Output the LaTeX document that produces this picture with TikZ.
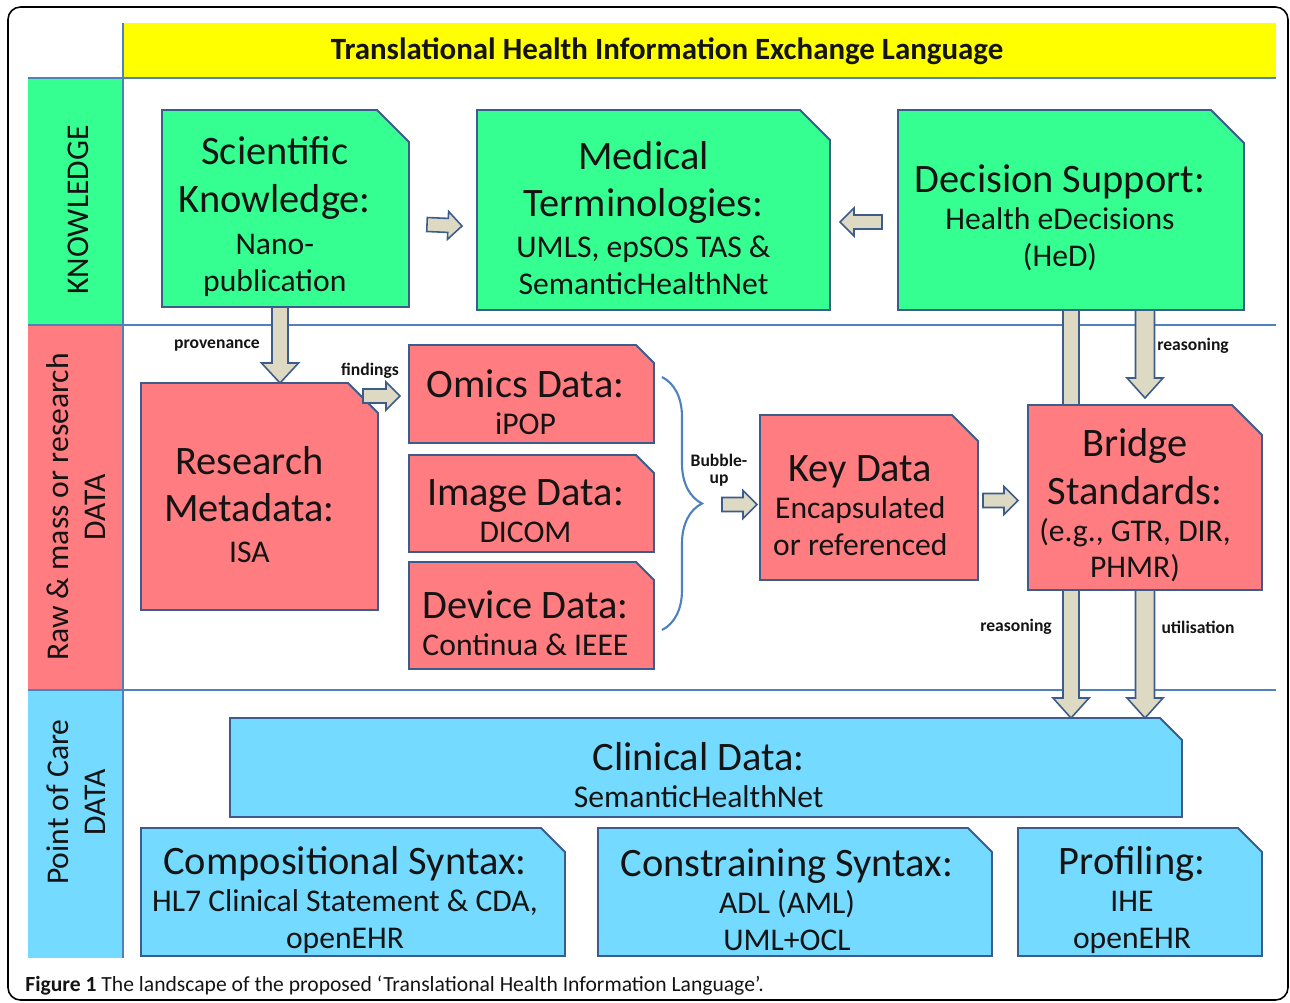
\documentclass[tikz,border=0pt]{standalone}
\usepackage{fontspec}
\setmainfont{Carlito}
\usetikzlibrary{calc, decorations.pathreplacing}

\definecolor{kgreen}{RGB}{54,255,146}
\definecolor{rsalmon}{RGB}{255,124,128}
\definecolor{cblue}{RGB}{117,218,255}
\definecolor{hyellow}{RGB}{255,255,0}
\definecolor{boxline}{RGB}{60,92,140}
\definecolor{laneline}{RGB}{79,129,189}
\definecolor{arrfill}{RGB}{221,217,195}
\definecolor{txt}{RGB}{20,20,20}

\newcommand\hd[1]{{\fontsize{23}{27}\selectfont #1}}
% box with cut corner: name, x1, y1, x2, y2, cut, colour, text
\newcommand\snipbox[8]{%
  \filldraw[fill=#7, boxborder] (#2,#3) -- ({#4-#6},#3) -- (#4,{#3+#6}) -- (#4,#5) -- (#2,#5) -- cycle;
  \node[boxshape, minimum width={(#4-#2)*0.02cm}, minimum height={(#5-#3)*0.02cm}] (#1)
      at ({(#2+#4)/2},{(#3+#5)/2}) {};
  \node[boxtext] (#1-txt) at ($(#1.center)+({-#6/3},8)$) {#8};
}
% block arrow: start, end, half shaft, half head, head length
\newcommand\blockarrow[5]{%
  \coordinate (ba) at ($(#2)!#5!(#1)$);
  \filldraw[fatarrow] ($(#1)!#3!90:(#2)$) -- ($(ba)!#3!90:(#2)$) -- ($(ba)!#4!90:(#2)$) -- (#2)
    -- ($(ba)!#4!-90:(#2)$) -- ($(ba)!#3!-90:(#2)$) -- ($(#1)!#3!-90:(#2)$) -- cycle;
}

\tikzset{
  boxborder/.style={draw=boxline, line width=1.1pt, line join=miter},
  boxshape/.style={rectangle, inner sep=0pt, outer sep=0pt},
  boxtext/.style={align=center, inner sep=0pt, text=txt, font=\fontsize{18}{21}\selectfont},
  fatarrow/.style={fill=arrfill, draw=boxline, line width=0.9pt, line join=miter},
  lanelbl/.style={rotate=90, align=center, text=txt, font=\fontsize{18}{21}\selectfont},
  tinylbl/.style={align=center, text=txt, font=\bfseries\fontsize{10}{10}\selectfont},
}

\begin{document}
\begin{tikzpicture}[x=0.02cm, y=-0.02cm]
    \useasboundingbox (0,0) rectangle (1290,1002);

    % Frame
    \draw[line width=0.9pt, rounded corners=0.25cm] (8,7) rectangle (1288,1000);

    % Lanes
    \fill[hyellow] (123,23) rectangle (1276,78);
    \fill[kgreen] (28,78) rectangle (123,325);
    \fill[rsalmon] (28,325) rectangle (123,690);
    \fill[cblue] (28,690) rectangle (123,958);
    \draw[laneline, line width=1.1pt] (28,78) -- (1276,78);
    \draw[laneline, line width=1.1pt] (28,325) -- (1276,325);
    \draw[laneline, line width=1.1pt] (28,690) -- (1276,690);
    \draw[laneline, line width=1.1pt] (123,23) -- (123,958);

    \node[text=txt, font=\bfseries\fontsize{17.6}{20}\selectfont] (title) at (667,51)
        {Translational Health Information Exchange Language};
    \node[lanelbl] (lknow) at (78,210) {KNOWLEDGE};
    \node[lanelbl] (lraw) at (76,507) {Raw \& mass or research\\DATA};
    \node[lanelbl] (lpoc) at (76,802) {Point of Care\\DATA};

    % Knowledge
    \snipbox{sk}{162}{110}{409}{307}{32}{kgreen}
        {\hd{Scientific}\\[6pt]\hd{Knowledge:}\\[3pt]Nano-\\publication}
    \snipbox{mt}{477}{110}{830}{310}{30}{kgreen}
        {\hd{Medical}\\[6pt]\hd{Terminologies:}\\[2pt]UMLS, epSOS TAS \&\\SemanticHealthNet}
    \snipbox{ds}{898}{110}{1244}{310}{33}{kgreen}
        {\hd{Decision Support:}\\Health eDecisions\\(HeD)}

    % Raw data
    \snipbox{rm}{141}{383}{378}{610}{30}{rsalmon}
        {\hd{Research}\\[6pt]\hd{Metadata:}\\[2pt]ISA}
    \snipbox{omics}{409}{345}{654}{443}{18}{rsalmon}
        {\hd{Omics Data:}\\iPOP}
    \snipbox{image}{409}{455}{654}{552}{18}{rsalmon}
        {\hd{Image Data:}\\DICOM}
    \snipbox{device}{409}{562}{654}{669}{18}{rsalmon}
        {\hd{Device Data:}\\Continua \& IEEE}
    \snipbox{kd}{760}{415}{978}{580}{26}{rsalmon}
        {\hd{Key Data}\\Encapsulated\\or referenced}

    % Point of care
    \snipbox{clin}{230}{718}{1182}{817}{22}{cblue}
        {\hd{Clinical Data:}\\SemanticHealthNet}
    \snipbox{comp}{141}{828}{565}{956}{24}{cblue}
        {\hd{Compositional Syntax:}\\HL7 Clinical Statement \& CDA,\\openEHR}
    \snipbox{cons}{598}{828}{992}{956}{24}{cblue}
        {\hd{Constraining Syntax:}\\ADL (AML)\\UML+OCL}
    \snipbox{prof}{1018}{828}{1262}{956}{24}{cblue}
        {\hd{Profiling:}\\IHE\\openEHR}

    % long arrow passes behind the bridge box
    \coordinate (dsA) at (ds.south);
    \coordinate (clinA) at (ds.south |- clin.north);
    \blockarrow{dsA}{clinA}{0.16cm}{0.36cm}{0.4cm}

    \snipbox{bridge}{1028}{405}{1262}{590}{30}{rsalmon}
        {\hd{Bridge}\\[6pt]\hd{Standards:}\\(e.g., GTR, DIR,\\PHMR)}

    % Brace over the data sources
    \draw[laneline, line width=1.2pt, decorate, decoration={brace, amplitude=0.8cm}]
        (662,377) -- (662,630);

    % Arrows
    \coordinate (skA) at (sk.south -| 280,0);
    \coordinate (rmA) at (skA |- rm.north);
    \blockarrow{skA}{rmA}{0.16cm}{0.37cm}{0.4cm}

    \coordinate (findA) at ($(rm.east |- omics.west)+(-15,2)$);
    \coordinate (findB) at ($(omics.west)+(-9,2)$);
    \blockarrow{findA}{findB}{0.14cm}{0.28cm}{0.28cm}

    \coordinate (skB) at ($(sk.east)+(18,16)$);
    \coordinate (mtA) at ($(mt.west)+(-15,16)$);
    \blockarrow{skB}{mtA}{0.14cm}{0.28cm}{0.28cm}

    \coordinate (dsB) at ($(ds.west)+(-16,12)$);
    \coordinate (mtB) at ($(mt.east)+(10,12)$);
    \blockarrow{dsB}{mtB}{0.14cm}{0.28cm}{0.28cm}

    \coordinate (bubA) at ($(kd.west)+(-38,7)$);
    \coordinate (bubB) at ($(kd.west)+(-3,7)$);
    \blockarrow{bubA}{bubB}{0.14cm}{0.28cm}{0.28cm}

    \coordinate (kdA) at ($(kd.east)+(5,3)$);
    \coordinate (brA) at ($(bridge.west)+(-10,3)$);
    \blockarrow{kdA}{brA}{0.14cm}{0.28cm}{0.28cm}

    \coordinate (dsC) at (ds.south -| bridge.north);
    \coordinate (brB) at ($(bridge.north)+(0,-7)$);
    \blockarrow{dsC}{brB}{0.19cm}{0.36cm}{0.4cm}

    \coordinate (brC) at (bridge.south);
    \coordinate (clinB) at (bridge.south |- clin.north);
    \blockarrow{brC}{clinB}{0.19cm}{0.36cm}{0.4cm}

    % Arrow labels
    \node[tinylbl] (lprov) at (217,346) {provenance};
    \node[tinylbl] (lfind) at (370,371) {findings};
    \node[tinylbl] (lbub) at (719,470) {Bubble-\\up};
    \node[tinylbl] (lreas) at (1193,346) {reasoning};
    \node[tinylbl] (lreas2) at (1016,627) {reasoning};
    \node[tinylbl] (lutil) at (1198,627) {utilisation};

    % Caption
    \node[anchor=base west, inner sep=0pt, text=txt, font=\fontsize{12.3}{14}\selectfont] (cap) at (25,991)
        {\textbf{Figure 1} The landscape of the proposed ‘Translational Health Information Language’.};
\end{tikzpicture}
\end{document}
